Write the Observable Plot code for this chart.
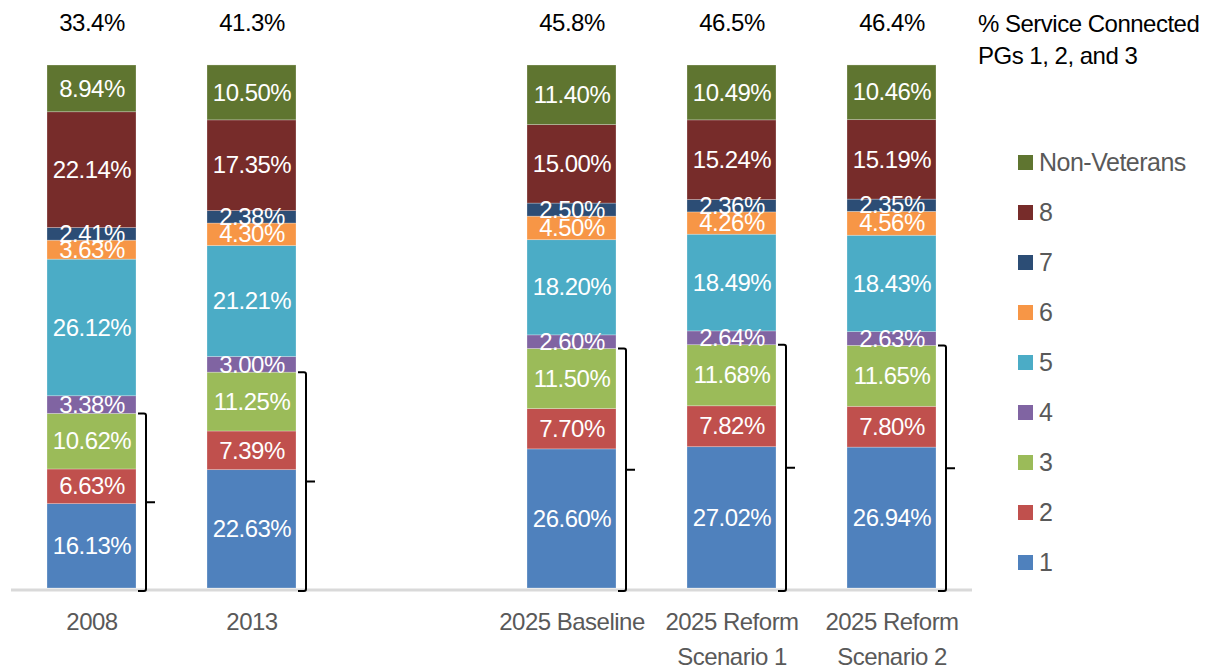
<!DOCTYPE html>
<html>
<head>
<meta charset="utf-8">
<script src="https://cdn.jsdelivr.net/npm/d3@7"></script>
<script src="https://cdn.jsdelivr.net/npm/@observablehq/plot@0.6"></script>
<style>
  html, body { margin: 0; padding: 0; background: #fff; }
  #wrap { position: relative; width: 1212px; height: 665px; font-family: "Liberation Sans", Arial, sans-serif; }
  #chart svg text { letter-spacing: -0.5px; }
  #title { position: absolute; left: 978px; top: 8px; font-size: 24px; line-height: 32px; color: #000; letter-spacing: -0.5px; white-space: nowrap; }
  #legend { position: absolute; left: 1018px; top: 137px; }
  .row { display: flex; align-items: center; height: 50px; font-size: 25px; color: #595959; letter-spacing: -0.5px; }
  .sw { width: 15px; height: 15px; margin-right: 6px; }
</style>
</head>
<body>
<div id="wrap">
  <div id="chart"></div>
  <div id="title">% Service Connected<br>PGs 1, 2, and 3</div>
  <div id="legend"></div>
</div>
<script>
// ---- data ----
const categories = ["2008", "2013", "2025 Baseline", "2025 Reform Scenario 1", "2025 Reform Scenario 2"];
const categoryLabels = ["2008", "2013", "2025 Baseline", "2025 Reform\nScenario 1", "2025 Reform\nScenario 2"];
const groups = ["1", "2", "3", "4", "5", "6", "7", "8", "Non-Veterans"];
const colors = ["#4f81bd", "#c0504d", "#9bbb59", "#8064a2", "#4bacc6", "#f79646", "#2c4d75", "#772c2a", "#5f7530"];
const pg1 = [16.13, 22.63, 26.60, 27.02, 26.94];
const pg2 = [6.63, 7.39, 7.70, 7.82, 7.80];
const pg3 = [10.62, 11.25, 11.50, 11.68, 11.65];
const pg4 = [3.38, 3.00, 2.60, 2.64, 2.63];
const pg5 = [26.12, 21.21, 18.20, 18.49, 18.43];
const pg6 = [3.63, 4.30, 4.50, 4.26, 4.56];
const pg7 = [2.41, 2.38, 2.50, 2.36, 2.35];
const pg8 = [22.14, 17.35, 15.00, 15.24, 15.19];
const nonVeterans = [8.94, 10.50, 11.40, 10.49, 10.46];
const serviceConnectedPct = [33.4, 41.3, 45.8, 46.5, 46.4];

// ---- tables built from the arrays ----
const series = [pg1, pg2, pg3, pg4, pg5, pg6, pg7, pg8, nonVeterans];
const rows = [];
categories.forEach((c, i) => series.forEach((s, g) => rows.push({cat: c, group: groups[g], value: s[i]})));
const xDomain = [categories[0], categories[1], "", ...categories.slice(2)];
const labelOf = new Map(categories.map((c, i) => [c, categoryLabels[i]]));
const tops = categories.map((c, i) => ({cat: c, pct: serviceConnectedPct[i], top: pg1[i] + pg2[i] + pg3[i]}));

function bracketMark(index, scales) {
  const x = scales.x, y = scales.y;
  const bw = typeof x.bandwidth === "function" ? x.bandwidth() : x.bandwidth;
  const g = d3.create("svg:g").attr("fill", "none").attr("stroke", "#000").attr("stroke-width", 2);
  for (const d of tops) {
    const xr = x(d.cat) + bw + 2, xv = xr + 8;
    const yt = y(d.top), yb = y(0) + 3, ym = (yt + yb) / 2;
    g.append("path").attr("d",
      `M${xr},${yt}H${xv - 2}Q${xv},${yt} ${xv},${yt + 2}V${yb - 2}Q${xv},${yb} ${xv - 2},${yb}H${xr}` +
      `M${xv},${ym}H${xv + 9}`);
  }
  return g.node();
}

const chart = Plot.plot({
  width: 1212,
  height: 665,
  marginLeft: 11,
  marginRight: 240,
  marginTop: 65,
  marginBottom: 77,
  style: {fontFamily: "'Liberation Sans', Arial, sans-serif", background: "transparent", overflow: "visible"},
  x: {domain: xDomain, paddingInner: 0.444, paddingOuter: 0.222, axis: null},
  y: {domain: [0, 100], axis: null},
  color: {domain: groups, range: colors},
  marks: [
    Plot.barY(rows, {x: "cat", y: "value", fill: "group", stroke: "#fff", strokeOpacity: 0.35, strokeWidth: 0.75}),
    Plot.ruleY([0], {stroke: "#d9d9d9", strokeWidth: 3, dy: 1.5}),
    Plot.text(rows, Plot.stackY({x: "cat", y: "value", z: "group", text: d => d.value.toFixed(2) + "%", fill: "#fff", fontSize: 24})),
    Plot.text(tops, {x: "cat", frameAnchor: "top", lineAnchor: "middle", dy: -42, text: d => d.pct.toFixed(1) + "%", fill: "#000", fontSize: 24}),
    Plot.text(categories, {x: d => d, frameAnchor: "bottom", lineAnchor: "top", dy: 17, lineHeight: 1.45, text: d => labelOf.get(d), fill: "#595959", fontSize: 24}),
    bracketMark
  ]
});
document.getElementById("chart").appendChild(chart);

const legend = document.getElementById("legend");
for (let i = groups.length - 1; i >= 0; i--) {
  const row = document.createElement("div");
  row.className = "row";
  const sw = document.createElement("div");
  sw.className = "sw";
  sw.style.background = colors[i];
  const t = document.createElement("span");
  t.textContent = groups[i];
  row.appendChild(sw); row.appendChild(t);
  legend.appendChild(row);
}
</script>
</body>
</html>
